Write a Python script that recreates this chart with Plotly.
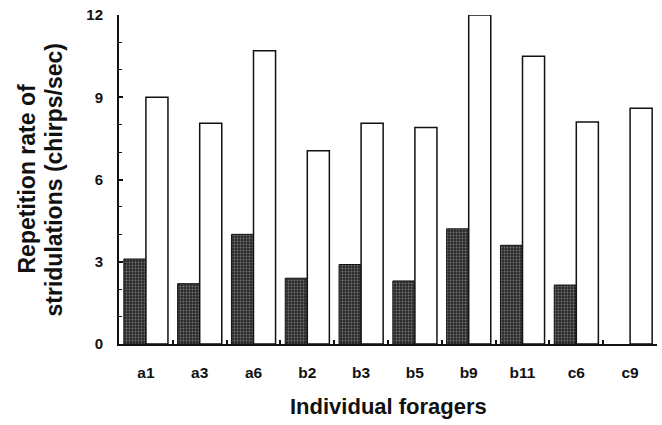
import plotly.graph_objects as go

foragers = ["a1", "a3", "a6", "b2", "b3", "b5", "b9", "b11", "c6", "c9"]
dark_rate = [3.1, 2.2, 4.0, 2.4, 2.9, 2.3, 4.2, 3.6, 2.15, None]
white_rate = [9.0, 8.05, 10.7, 7.05, 8.05, 7.9, 12.0, 10.5, 8.1, 8.6]
y_ticks = [0, 3, 6, 9, 12]

FONT = "Liberation Sans, Arial, Helvetica, sans-serif"

fig = go.Figure()
fig.add_trace(go.Bar(
    x=foragers, y=dark_rate, name="dark",
    marker=dict(color="#2a2a2a",
                line=dict(color="#111111", width=1),
                pattern=dict(shape=".", fgcolor="#bdbdbd", size=3, solidity=0.3)),
))
fig.add_trace(go.Bar(
    x=foragers, y=white_rate, name="white",
    marker=dict(color="white", line=dict(color="#111111", width=1.5)),
))

fig.update_layout(
    width=662, height=425,
    margin=dict(l=119, r=5, t=15, b=81, autoexpand=False),
    paper_bgcolor="white", plot_bgcolor="white",
    barmode="group", bargap=0.18, bargroupgap=0.0,
    showlegend=False,
    font=dict(family=FONT, color="#111111"),
)
fig.update_xaxes(
    type="category", range=[-0.5, 9.5], automargin=False,
    showline=True, linecolor="#111111", linewidth=2,
    showgrid=False, zeroline=False,
    ticks="inside", tickson="boundaries", ticklen=4, tickwidth=1.5, tickcolor="#111111",
    tickfont=dict(family=FONT, size=15.5, weight="bold", color="#111111"),
    ticklabelstandoff=13,
)
fig.update_yaxes(
    range=[0, 12], tickvals=y_ticks, ticktext=[str(v) for v in y_ticks], automargin=False,
    showline=True, linecolor="#111111", linewidth=2,
    showgrid=False, zeroline=False,
    ticks="inside", ticklen=4, tickwidth=1.5, tickcolor="#111111",
    minor=dict(dtick=1, tick0=0, ticks="inside", ticklen=3, tickwidth=1, tickcolor="#111111"),
    tickfont=dict(family=FONT, size=15, weight="bold", color="#111111"),
    ticklabelstandoff=11,
)

pw = 538.0
ph = 329.0
fig.add_annotation(
    text="Repetition rate of", textangle=-90, showarrow=False,
    xref="paper", yref="paper", x=(26 - 119) / pw, y=0.5,
    xanchor="center", yanchor="middle",
    font=dict(family=FONT, size=23, weight="bold", color="#111111"),
)
fig.add_annotation(
    text="stridulations (chirps/sec)", textangle=-90, showarrow=False,
    xref="paper", yref="paper", x=(53 - 119) / pw, y=0.5,
    xanchor="center", yanchor="middle",
    font=dict(family=FONT, size=23, weight="bold", color="#111111"),
)
fig.add_annotation(
    text="Individual foragers", showarrow=False,
    xref="paper", yref="paper", x=0.5, y=(344 - 406) / ph,
    xanchor="center", yanchor="middle",
    font=dict(family=FONT, size=22, weight="bold", color="#111111"),
)

fig.write_html("out.html", config={"displayModeBar": False},
               post_script="document.body.style.margin='0';document.body.style.padding='0';")
